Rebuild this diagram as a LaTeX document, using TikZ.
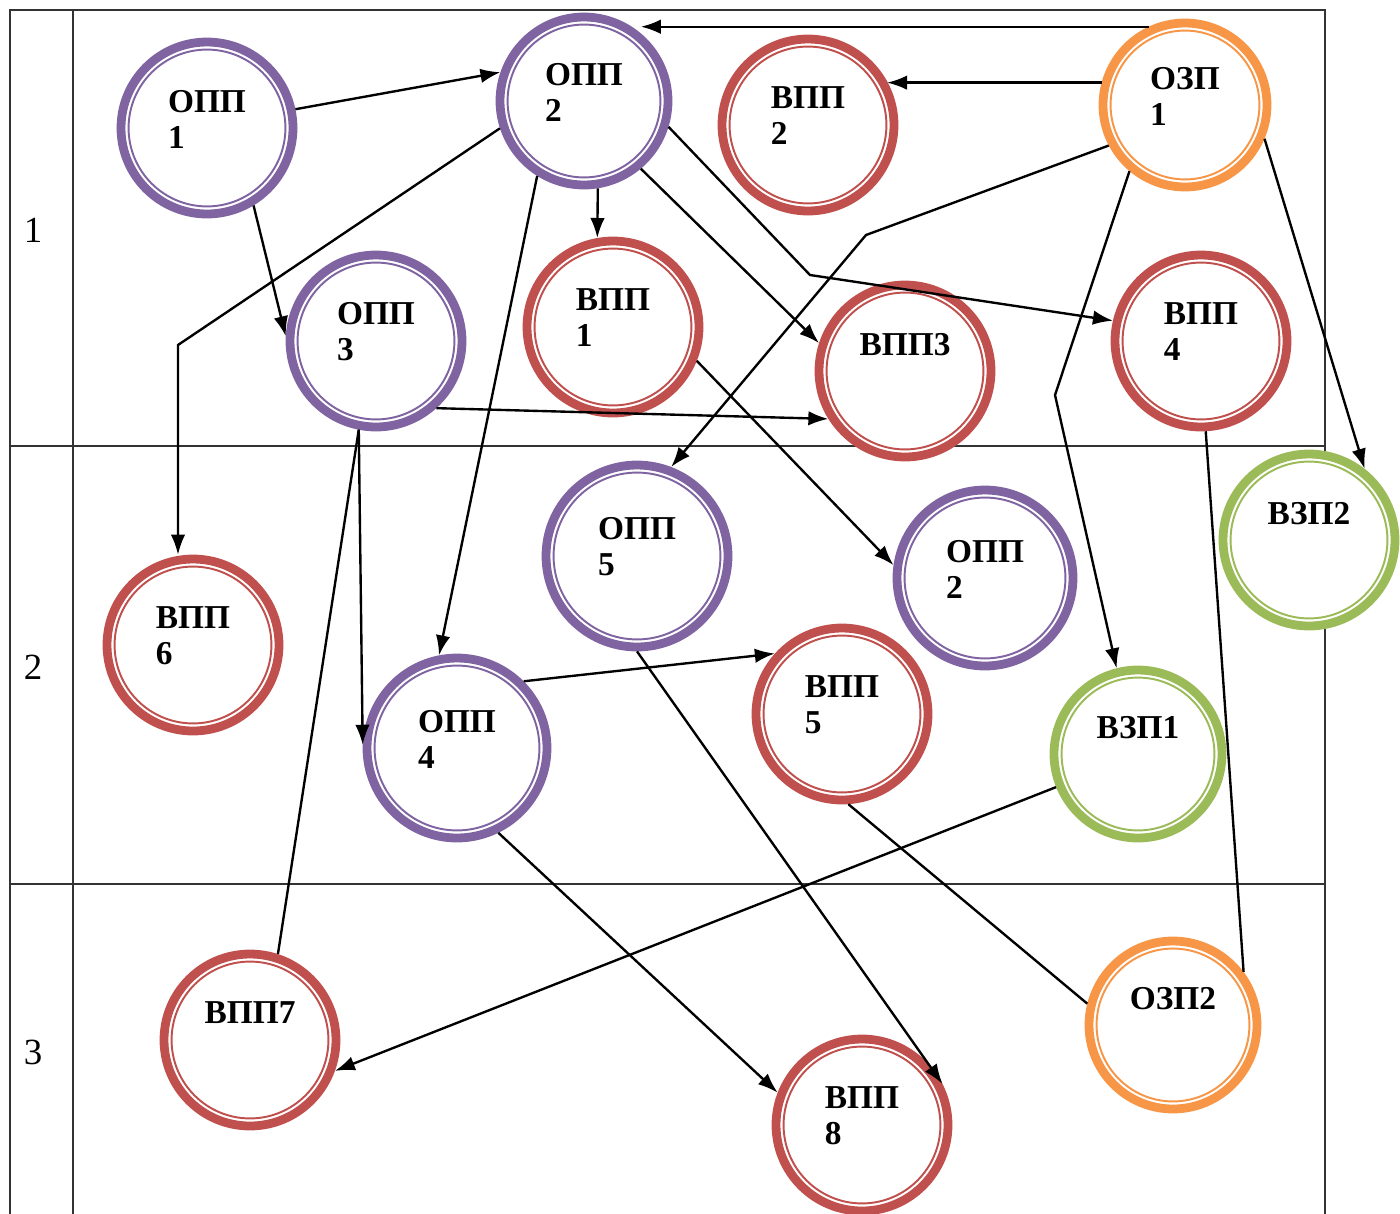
\documentclass[tikz,border=0pt]{standalone}
\usepackage{fontspec}
\setmainfont{Liberation Serif}
\usetikzlibrary{arrows.meta,calc}
\definecolor{oppviolet}{RGB}{128,100,162}
\definecolor{vppred}{RGB}{192,80,77}
\definecolor{ozporange}{RGB}{247,150,70}
\definecolor{vzpgreen}{RGB}{155,187,89}
\begin{document}
\begin{tikzpicture}[x=0.02cm, y=-0.02cm,
    ring/.style={circle, minimum size=3.44cm, inner sep=0pt, fill=white, draw=#1, line width=5pt,
      path picture={\draw[#1, line width=1.1pt] let \p1=(path picture bounding box.east), \p2=(path picture bounding box.center) in (\p2) circle ({\x1-\x2-4.3pt});}},
    txt/.style={align=left, inner sep=0pt, yshift=0.18cm, font=\bfseries\fontsize{19}{20.5}\selectfont},
    opp/.style={ring=oppviolet, label={[txt]center:#1}},
    vpp/.style={ring=vppred, label={[txt]center:#1}},
    ozp/.style={ring=ozporange, label={[txt]center:#1}},
    vzp/.style={ring=vzpgreen, label={[txt]center:#1}},
    rownum/.style={font=\fontsize{21}{24}\selectfont},
    grid/.style={line width=0.8pt, black!80},
    arr/.style={line width=1.35pt, -{Latex[length=0.4cm, width=0.29cm]}},
    link/.style={line width=1.35pt}]
  \useasboundingbox (0,0) rectangle (1400,1214);

  \draw[grid] (10,1214) -- (10,10) -- (1325,10) -- (1325,1214);
  \draw[grid] (73,10) -- (73,1214);
  \draw[grid] (10,446) -- (1325,446);
  \draw[grid] (10,884) -- (1325,884);
  \node[rownum] (row1) at (33,230) {1};
  \node[rownum] (row2) at (33,667) {2};
  \node[rownum] (row3) at (33,1052) {3};

  \node[opp={ОПП\\1}] (opp1) at (207,128) {};
  \node[opp={ОПП\\2}, minimum size=3.36cm] (opp2) at (584,101) {};
  \node[vpp={ВПП\\2}] (vpp2) at (808,125) {};
  \node[ozp={ОЗП\\1}, minimum size=3.28cm] (ozp1) at (1185,105) {};
  \node[opp={ОПП\\3}] (opp3) at (376,341) {};
  \node[vpp={ВПП\\1}] (vpp1) at (613,327) {};
  \node[vpp={ВПП3\\\phantom{1}}] (vpp3) at (905,371) {};
  \node[vpp={ВПП\\4}] (vpp4) at (1201,341) {};
  \node[vzp={ВЗП2\\\phantom{1}}] (vzp2) at (1309,540) {};
  \node[opp={ОПП\\5}, minimum size=3.64cm] (opp5) at (637,556) {};
  \node[opp={ОПП\\2}, minimum size=3.52cm] (oppb) at (985,578) {};
  \node[vpp={ВПП\\6}] (vpp6) at (193,645) {};
  \node[opp={ОПП\\4}, minimum size=3.6cm] (opp4) at (457,748) {};
  \node[vpp={ВПП\\5}] (vpp5) at (842,714) {};
  \node[vzp={ВЗП1\\\phantom{1}}, minimum size=3.36cm] (vzp1) at (1138,754) {};
  \node[vpp={ВПП7\\\phantom{1}}] (vpp7) at (250,1040) {};
  \node[ozp={ОЗП2\\\phantom{1}}, minimum size=3.36cm] (ozp2) at (1173,1025) {};
  \node[vpp={ВПП\\8}] (vpp8) at (862,1125) {};

  \coordinate (k1) at (178,345);
  \coordinate (k2) at (810,275);
  \coordinate (k3) at (866,235);
  \coordinate (k4) at (1055,395);

  \draw[arr] (opp1.12) -- (opp2.161);
  \draw[arr] (opp1.301) -- (opp3.177);
  \draw[arr] (opp2.198) -- (k1) -- (k1 |- vpp6.north);
  \draw[arr] (opp2.238) -- (opp4.101);
  \draw[arr] (opp2.279) -- (vpp1.100);
  \draw[arr] (opp2.310) -- (vpp3.162);
  \draw[arr] (opp2.343) -- (k2) -- (vpp4.167);
  \draw[arr] (ozp1.115) -- (ozp1.115 -| opp2.50);
  \draw[arr] (ozp1.165) -- (ozp1.165 -| vpp2.29);
  \draw[arr] (ozp1.208) -- (k3) -- (opp5.69);
  \draw[arr] (ozp1.230) -- (k4) -- (vzp1.104);
  \draw[arr] (ozp1.337) -- (vzp2.52);
  \draw[arr] (opp3.312) -- (vpp3.212);
  \draw[arr] (opp3.259) -- (opp4.178);
  \draw[link] (opp3.259) -- (vpp7.72);
  \draw[arr] (vpp1.338) -- (oppb.172);
  \draw[arr] (opp4.45) -- (vpp5.138);
  \draw[arr] (opp4.296) -- (vpp8.159);
  \draw[arr] (opp5.270) -- (vpp8.27);
  \draw[link] (vpp5.274) -- (ozp2.166);
  \draw[arr] (vzp1.202) -- (vpp7.340);
  \draw[link] (vpp4.273) -- (ozp2.37);
\end{tikzpicture}
\end{document}
